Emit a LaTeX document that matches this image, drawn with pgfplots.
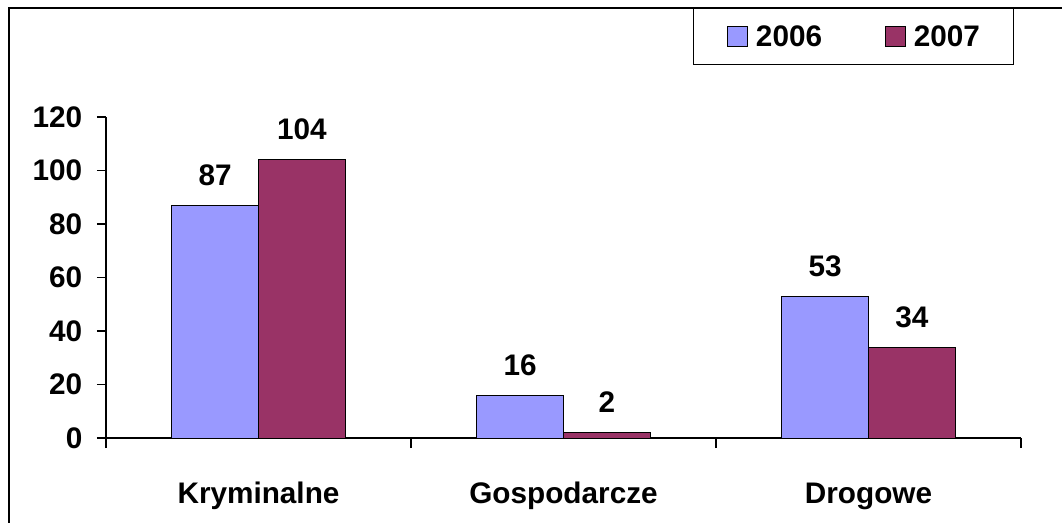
\documentclass[border=0pt]{standalone}
\usepackage{fontspec}
\setmainfont{Liberation Sans}
\usepackage{pgfplots}
\pgfplotsset{compat=1.18}
\definecolor{c2006}{HTML}{9999FF}
\definecolor{c2007}{HTML}{993366}
\newcommand{\bigbf}{\fontsize{22.3}{26}\selectfont\bfseries}
\begin{document}
\begin{tikzpicture}
\useasboundingbox (0,0) rectangle (796.5pt,-392.25pt);
\clip (0,0) rectangle (796.5pt,-392.25pt);
\draw[line width=1pt] (6.75pt,-6pt) rectangle (805pt,-400pt);
\begin{axis}[
  at={(79.5pt,-328.5pt)}, anchor=south west,
  scale only axis, width=686.25pt, height=240.75pt,
  xmin=0.5, xmax=3.5, ymin=0, ymax=120,
  axis x line*=bottom, axis y line*=left,
  axis line style={line width=0.9pt, -},
  ybar=0pt, bar width=0.285,
  xtick={1,2,3},
  xticklabels={Kryminalne,Gospodarcze,Drogowe},
  extra x ticks={0.5,1.5,2.5,3.5},
  extra x tick labels={},
  extra x tick style={major tick length=7.5pt, xtick style={draw=black, line width=0.9pt}},
  ytick={0,20,...,120},
  tick align=outside,
  xtick style={draw=none},
  ytick style={line width=0.9pt, black},
  major tick length=6.75pt,
  /pgf/number format/assume math mode=true,
  ticklabel style={font=\bigbf},
  yticklabel style={anchor=east, xshift=-7.5pt},
  xticklabel style={anchor=base, yshift=-42pt},
  nodes near coords,
  every node near coord/.append style={font=\bigbf, anchor=base, yshift=15pt, inner sep=0pt},
  legend columns=2,
  legend image code/.code={\draw[#1, draw=black, line width=0.75pt] (0pt,-7.5pt) rectangle (15pt,7.5pt);},
  legend style={
    at={(rel axis cs:0.6415,1.3396)}, anchor=north west,
    draw=black, line width=1pt, font=\bigbf,
    inner xsep=25pt, inner ysep=12.5pt,
    column sep=6pt,
    nodes={inner sep=0pt},
    /tikz/every even column/.append style={column sep=47pt},
  },
]
\addplot[fill=c2006, draw=black, line width=0.75pt] coordinates {(1,87) (2,16) (3,53)};
\addplot[fill=c2007, draw=black, line width=0.75pt] coordinates {(1,104) (2,2) (3,34)};
\legend{2006,2007}
\end{axis}
\end{tikzpicture}
\end{document}
